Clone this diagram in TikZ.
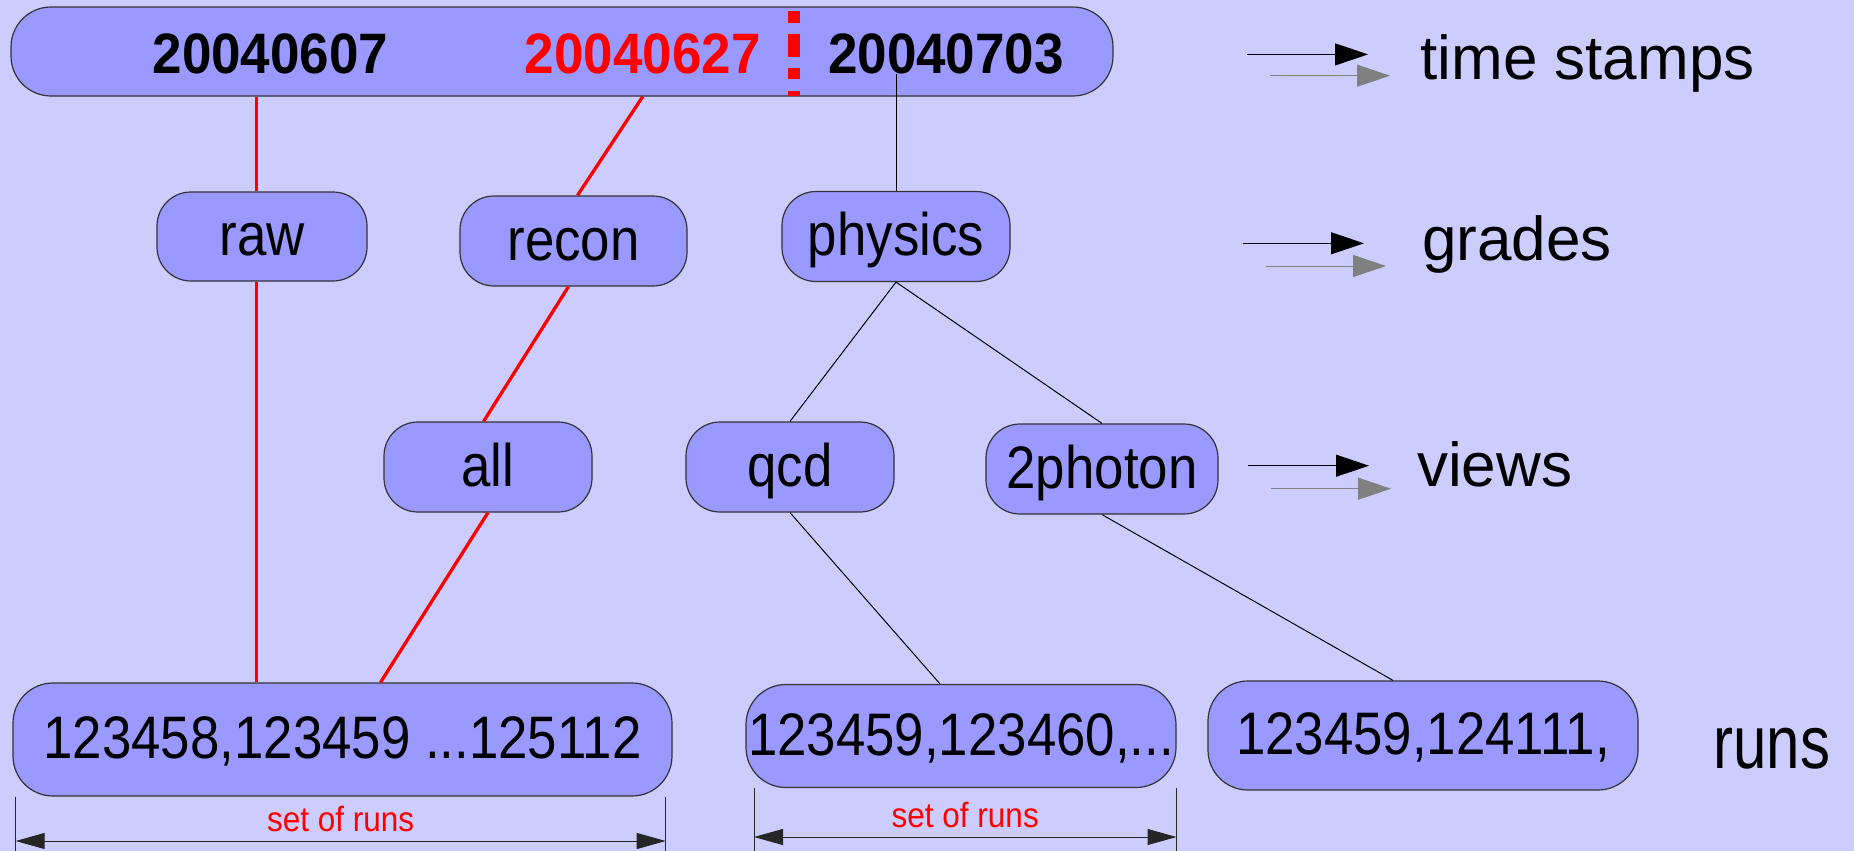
\documentclass[tikz,border=0pt]{standalone}
\usepackage{fontspec}
\setmainfont{Liberation Sans}
\newfontfamily\labelfont[FakeStretch=0.88]{Liberation Sans}
\newfontfamily\datefont[FakeStretch=0.93]{Liberation Sans}
\newfontfamily\runsfont[FakeStretch=0.8]{Liberation Sans}
\newfontfamily\spanfont[FakeStretch=0.9]{Liberation Sans}
\usetikzlibrary{arrows.meta}
\definecolor{bgblue}{HTML}{CCCCFF}
\definecolor{boxblue}{HTML}{9999FF}
% span arrow under a run box: box name, left x, right x, arrow y
\newcommand{\runspan}[4]{%
  \coordinate (#1-l) at (#2,#4);
  \coordinate (#1-r) at (#3,#4);
  \draw[dim] (#1-l |- #1.south) -- (#2,851);
  \draw[dim] (#1-r |- #1.south) -- (#3,851);
  \draw[dim,{Triangle[length=14.5pt,width=8pt]}-{Triangle[length=14.5pt,width=8pt]}]
    (#1-l) -- node[spanlabel] (#1-txt) {set of runs} (#1-r);
}

\begin{document}
\begin{tikzpicture}[x=0.5pt,y=-0.5pt,
  box/.style={draw=black!80,line width=0.6pt,fill=boxblue,rounded corners=17pt,
    inner sep=0pt,text height=21.5pt,text depth=2.5pt,
    font=\labelfont\fontsize{30pt}{36pt}\selectfont},
  bigbox/.style={box,rounded corners=20pt},
  date/.style={inner sep=0pt,anchor=base,font=\datefont\bfseries\fontsize{28.5pt}{34pt}\selectfont},
  legend/.style={inner sep=0pt,anchor=base west,font=\fontsize{31pt}{37pt}\selectfont},
  spanlabel/.style={inner sep=0pt,anchor=base,yshift=4.7pt,text=red,
    font=\spanfont\fontsize{17.5pt}{20pt}\selectfont},
  dim/.style={draw=black!85,line width=0.5pt},
  redlink/.style={red,line width=1.65pt},
  link/.style={black,line width=0.5pt},
  legarrow/.style={line width=0.5pt,-{Triangle[length=16.5pt,width=11pt]}}]
  \useasboundingbox (0,0) rectangle (1854,851);
  \fill[bgblue] (0,0) rectangle (1854,851);

  % time stamp bar
  \node[bigbox,minimum width=551pt,minimum height=44.5pt] (bar) at (562,51.5) {};
  \node[date] (d1) at (270.5,73) {20040607};
  \node[date,text=red] (d2) at (642.7,73) {20040627};
  \node[date] (d3) at (946,73) {20040703};
  \draw[red,line width=6pt,dash pattern=on 6pt off 5.5pt on 11.5pt off 5.5pt on 5.5pt off 6pt on 2.5pt]
    (794,11) -- (794,96);

  % grades and views
  \node[box,minimum width=105pt,minimum height=44.5pt] (raw) at (262,236.5) {raw};
  \node[box,minimum width=113.5pt,minimum height=45pt] (recon) at (573.5,241) {recon};
  \node[box,minimum width=114pt,minimum height=45pt] (physics) at (896,236.5) {physics};
  \node[box,minimum width=104pt,minimum height=45pt] (all) at (488,467) {all};
  \node[box,minimum width=104pt,minimum height=45pt] (qcd) at (790,467) {qcd};
  \node[box,minimum width=116pt,minimum height=45pt] (twophoton) at (1102,469) {2photon};

  % run lists
  \node[bigbox,minimum width=329.5pt,minimum height=56.5pt] (runsa) at (342.5,739.5) {123458,123459 ...125112};
  \node[bigbox,minimum width=215pt,minimum height=51.5pt] (runsb) at (961,736) {123459,123460,...};
  \node[bigbox,minimum width=215pt,minimum height=54.5pt] (runsc) at (1423,735.5) {123459,124111,\hspace{7pt}};

  % red path through raw / recon
  \draw[redlink] ([xshift=-2.7pt]raw.north |- bar.south) -- ([xshift=-2.7pt]raw.north);
  \draw[redlink] ([xshift=-2.7pt]raw.south) -- ([xshift=-2.7pt]raw.south |- runsa.north);
  \draw[redlink] (d2.south |- bar.south) -- ([xshift=2pt]recon.north);
  \draw[redlink] ([xshift=-2.5pt]recon.south) -- ([xshift=-2.2pt]all.north);
  \draw[redlink] (all.south) -- ([xshift=19pt]runsa.north);

  % physics tree
  \draw[link] (physics.north |- d3.south) -- (physics.north);
  \draw[link] (physics.south) -- (qcd.north);
  \draw[link] (physics.south) -- (twophoton.north);
  \draw[link] (qcd.south) -- ([xshift=-10.5pt]runsb.north);
  \draw[link] (twophoton.south) -- ([xshift=-15pt]runsc.north);

  \runspan{runsa}{15.7}{665.7}{841}
  \runspan{runsb}{754}{1176.5}{837}

  % legend
  \foreach \x/\yb/\yg in {1247/54.4/75.7,1243/243.3/266,1248/465.7/488.7} {
    \draw[legarrow,black] (\x,\yb) -- (\x+121,\yb);
    \draw[legarrow,gray] (\x+23,\yg) -- (\x+143,\yg);
  }
  \node[legend] (ts) at (1420,79.3) {time stamps};
  \node[legend] (gr) at (1421.7,260.7) {grades};
  \node[legend] (vw) at (1416.7,486.7) {views};
  \node[legend,font=\runsfont\fontsize{37.5pt}{44pt}\selectfont] (rn) at (1713,768.3) {runs};
\end{tikzpicture}
\end{document}
